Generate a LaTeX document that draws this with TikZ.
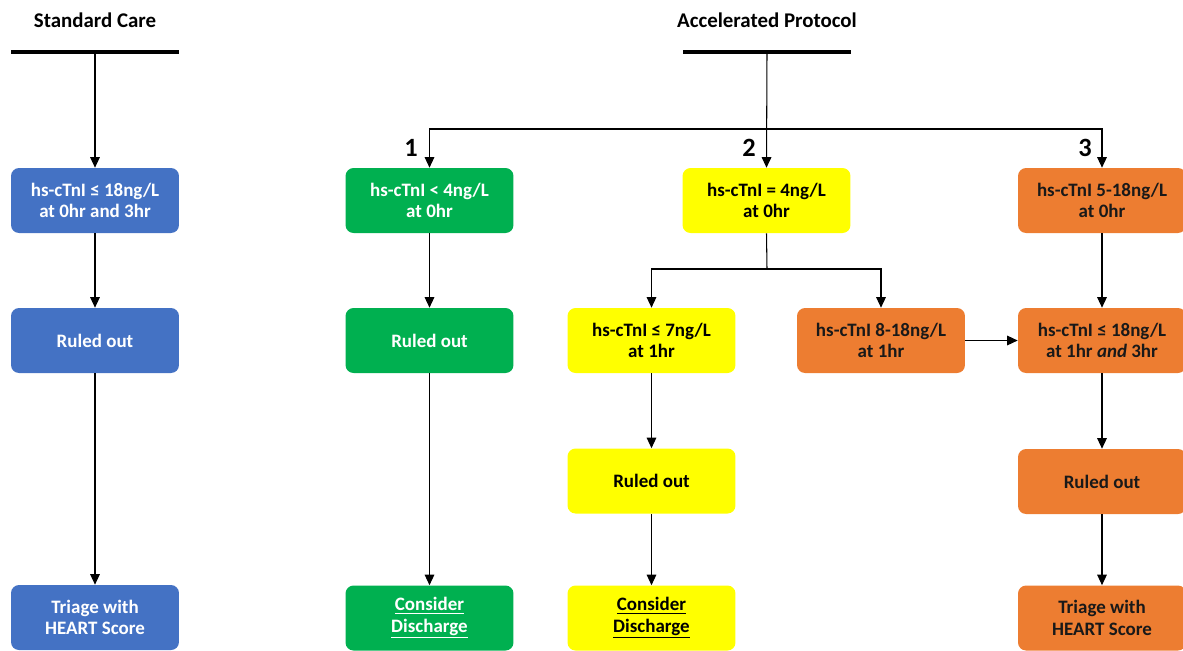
\documentclass[tikz,border=0pt]{standalone}
\usepackage{fontspec}
\setmainfont{Carlito}
\usetikzlibrary{arrows.meta}
\definecolor{cblue}{HTML}{4472C4}
\definecolor{cgreen}{HTML}{00B050}
\definecolor{cyellow}{HTML}{FFFF00}
\definecolor{corange}{HTML}{ED7D31}
\begin{document}
\begin{tikzpicture}[x=0.02cm,y=-0.02cm,
  box/.style={rectangle, rounded corners=0.16cm, minimum width=3.36cm, minimum height=1.3cm,
    align=center, inner sep=0pt, font=\bfseries\fontsize{10.8}{12.2}\selectfont},
  bluebox/.style={box, fill=cblue, text=white},
  greenbox/.style={box, fill=cgreen, text=white},
  yellowbox/.style={box, fill=cyellow, text=black},
  orangebox/.style={box, fill=corange, text=black!90},
  arr/.style={-{Triangle[length=6pt,width=5.5pt]}, line width=0.6pt},
  conn/.style={line width=0.6pt},
  bar/.style={line width=2pt},
  title/.style={font=\bfseries\fontsize{11.9}{14}\selectfont},
  num/.style={font=\bfseries\fontsize{15}{17}\selectfont}]
\useasboundingbox (0,0) rectangle (1183,650);

% titles and bars
\node[title] (st) at (95,20) {Standard Care};
\node[title] (at) at (767,20) {Accelerated Protocol};
\coordinate (sbl) at (11,52); \coordinate (sbr) at (179,52);
\coordinate (abl) at (683,52); \coordinate (abr) at (851,52);
\coordinate (sb) at (95,52); \coordinate (ab) at (767,52);
\draw[bar] (sbl) -- (sbr);
\draw[bar] (abl) -- (abr);

% standard care column
\node[bluebox] (b1) at (95,200.5) {hs-cTnI ≤ 18ng/L\\at 0hr and 3hr};
\node[bluebox] (b2) at (95,340.5) {Ruled out};
\node[bluebox] (b3) at (95,617.5) {Triage with\\HEART Score};

% pathway 1
\node[greenbox] (g1) at (429.5,200.5) {hs-cTnI < 4ng/L\\at 0hr};
\node[greenbox] (g2) at (429.5,340.5) {Ruled out};
\node[greenbox] (g3) at (429.5,618) {\underline{Consider}\\\underline{Discharge}};

% pathway 2
\node[yellowbox] (y1) at (766.5,200.5) {hs-cTnI = 4ng/L\\at 0hr};
\node[yellowbox] (y2) at (651.5,340.5) {hs-cTnI ≤ 7ng/L\\at 1hr};
\node[yellowbox] (y3) at (651.5,481) {Ruled out};
\node[yellowbox] (y4) at (651.5,618) {\underline{Consider}\\\underline{Discharge}};
\node[orangebox] (om) at (881,340.5) {hs-cTnI 8-18ng/L\\at 1hr};

% pathway 3
\node[orangebox] (o1) at (1102,200.5) {hs-cTnI 5-18ng/L\\at 0hr};
\node[orangebox] (o2) at (1102,340.5) {hs-cTnI ≤ 18ng/L\\at 1hr \textit{and} 3hr};
\node[orangebox] (o3) at (1102,481.5) {Ruled out};
\node[orangebox] (o4) at (1102,618) {Triage with\\HEART Score};

% numbers
\node[num] (n1) at (411,148) {1};
\node[num] (n2) at (749,148) {2};
\node[num] (n3) at (1085,148) {3};

% connectors
\draw[arr] (sb) -- (b1.north);
\draw[arr] (b1.south) -- (b2.north);
\draw[arr] (b2.south) -- (b3.north);

\coordinate (hb) at (767,129);
\draw[arr] (ab) -- (y1.north);
\draw[arr] (hb) -| (g1.north);
\draw[arr] (hb) -| (o1.north);

\draw[arr] (g1.south) -- (g2.north);
\draw[arr] (g2.south) -- (g3.north);

\coordinate (ys) at (767,269);
\draw[conn] (y1.south) -- (ys);
\draw[arr] (ys) -| (y2.north);
\draw[arr] (ys) -| (om.north);
\draw[arr] (y2.south) -- (y3.north);
\draw[arr] (y3.south) -- (y4.north);

\draw[arr] (om.east) -- (o2.west);
\draw[arr] (o1.south) -- (o2.north);
\draw[arr] (o2.south) -- (o3.north);
\draw[arr] (o3.south) -- (o4.north);
\end{tikzpicture}
\end{document}
